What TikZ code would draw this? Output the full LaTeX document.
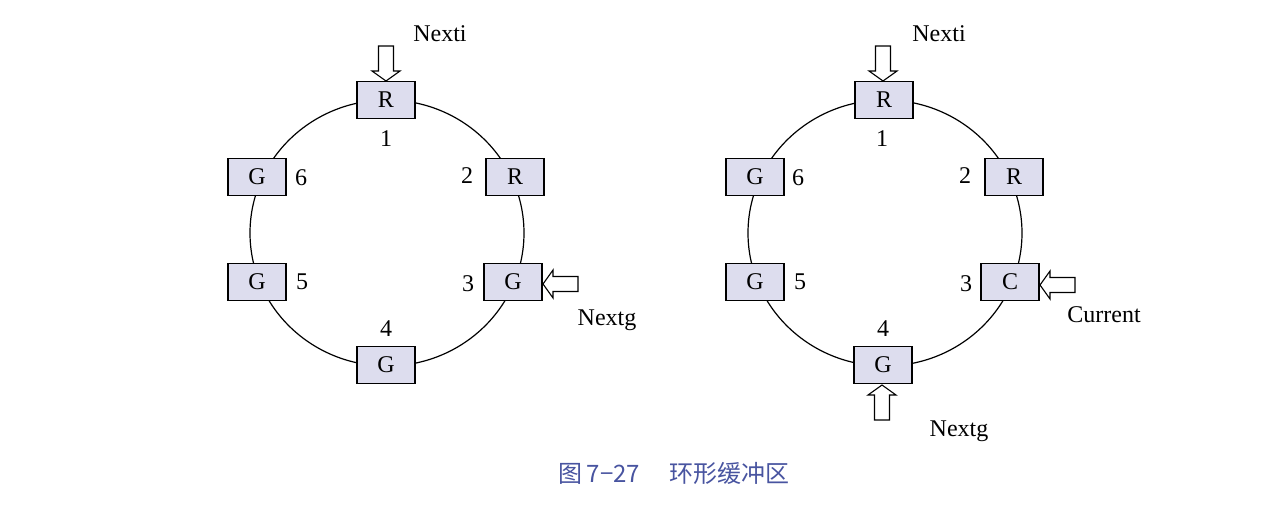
\documentclass[tikz,border=0pt]{standalone}
\usepackage{fontspec}
\setmainfont{Liberation Serif}
\newfontfamily\cjk{Noto Sans CJK SC}
\definecolor{boxfill}{RGB}{221,221,238}
\definecolor{capblue}{RGB}{72,84,160}
\newcommand{\arrdown}[2]{\draw[arr] (#1,#2) -- ++(-14,-10) -- ++(6.5,0) -- ++(0,-25) -- ++(15,0) -- ++(0,25) -- ++(6.5,0) -- cycle;}
\newcommand{\arrup}[2]{\draw[arr] (#1,#2) -- ++(-14,10) -- ++(6.5,0) -- ++(0,25) -- ++(15,0) -- ++(0,-25) -- ++(6.5,0) -- cycle;}
\newcommand{\arrleft}[2]{\draw[arr] (#1,#2) -- ++(10,-14) -- ++(0,6.5) -- ++(25,0) -- ++(0,15) -- ++(-25,0) -- ++(0,6.5) -- cycle;}
\begin{document}
\begin{tikzpicture}[x=1pt,y=-1pt,
  cell/.style={draw=black,line width=1.2pt,fill=boxfill,minimum width=58pt,minimum height=37pt,inner sep=0pt,font=\fontsize{24}{27}\selectfont},
  lbl/.style={font=\fontsize{24}{27}\selectfont,inner sep=0pt},
  ring/.style={draw=black,line width=1.2pt},
  arr/.style={draw=black,line width=1.1pt,fill=white,line join=miter}]
\useasboundingbox (0,0) rectangle (1286,514);
% left ring
\draw[ring] (387,233) ellipse [x radius=137, y radius=133];
\node[cell] (l1) at (386,100) {R};
\node[cell] (l2) at (515,177) {R};
\node[cell] (l3) at (513,282) {G};
\node[cell] (l4) at (386,365) {G};
\node[cell] (l5) at (257,282) {G};
\node[cell] (l6) at (257,177) {G};
\node[lbl] (ln1) at (386,139) {1};
\node[lbl] (ln2) at (467,176) {2};
\node[lbl] (ln3) at (468,284) {3};
\node[lbl] (ln4) at (386,329) {4};
\node[lbl] (ln5) at (302,282) {5};
\node[lbl] (ln6) at (301,178) {6};
\node[lbl] (lnexti) at (440,34) {Nexti};
\node[lbl] (lnextg) at (607,320) {Nextg};
\arrdown{386}{81}
\arrleft{543}{284}
% right ring
\draw[ring] (885,233) ellipse [x radius=137, y radius=133];
\node[cell] (r1) at (884,100) {R};
\node[cell] (r2) at (1014,177) {R};
\node[cell] (r3) at (1010,282) {C};
\node[cell] (r4) at (883,365) {G};
\node[cell] (r5) at (755,282) {G};
\node[cell] (r6) at (755,177) {G};
\node[lbl] (rn1) at (882,139) {1};
\node[lbl] (rn2) at (965,176) {2};
\node[lbl] (rn3) at (966,284) {3};
\node[lbl] (rn4) at (883,329) {4};
\node[lbl] (rn5) at (800,282) {5};
\node[lbl] (rn6) at (798,178) {6};
\node[lbl] (rnexti) at (939,34) {Nexti};
\node[lbl] (rcur) at (1104,315) {Current};
\node[lbl] (rnextg) at (959,431) {Nextg};
\arrdown{883}{81}
\arrleft{1040}{285}
\arrup{882}{385}
% caption
\node[inner sep=0pt,text=capblue,font=\cjk\fontsize{24}{28}\selectfont] (cap) at (674,473) {图\,7−27\hspace{1.2em}环形缓冲区};
\end{tikzpicture}
\end{document}
